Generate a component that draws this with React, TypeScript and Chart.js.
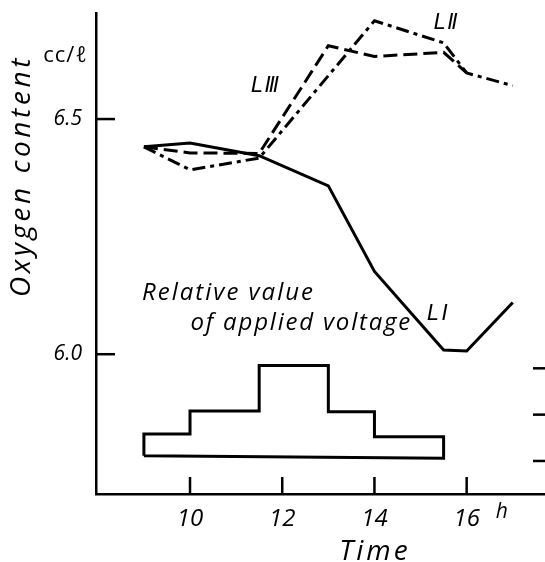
import React, { useEffect, useRef } from 'react';
import { Chart, registerables } from 'chart.js';

Chart.register(...registerables);

// ---- data ----
const times = [9, 10, 11.5, 13, 14, 15.5, 16, 17];
const lineI = [6.441, 6.449, 6.422, 6.358, 6.176, 6.009, 6.007, 6.11];
const lineII = [6.441, 6.392, 6.417, null, 6.709, 6.662, 6.598, 6.571];
const lineIII = [6.441, 6.428, 6.427, 6.656, 6.633, 6.642, 6.598, null];

const voltageTimes = [9, 10, 11.5, 13, 14, 15.5];
const voltageLevels = [0.58, 1.08, 2.06, 1.065, 0.525];
const voltageBase = [0.11, 0.06];

const oxygenTicks = [6.0, 6.5];
const timeTicks = [10, 12, 14, 16];
const voltageTicks = [0, 1, 2];

const FONT = "'Open Sans', 'DejaVu Sans', sans-serif";
const ROMAN_FONT = "'DejaVu Sans', sans-serif";

function buildOutline() {
  const pts: { x: number; y: number }[] = [{ x: voltageTimes[0], y: voltageBase[0] }];
  voltageLevels.forEach((lv, i) => {
    pts.push({ x: voltageTimes[i], y: lv });
    pts.push({ x: voltageTimes[i + 1], y: lv });
  });
  pts.push({ x: voltageTimes[voltageTimes.length - 1], y: voltageBase[1] });
  pts.push({ x: voltageTimes[0], y: voltageBase[0] });
  return pts;
}

const series = (vals: (number | null)[]) => times.map((t, i) => ({ x: t, y: vals[i] }));

const annotations = {
  id: 'annotations',
  afterDraw(chart: any) {
    const ctx: CanvasRenderingContext2D = chart.ctx;
    const area = chart.chartArea;
    const xs = chart.scales['x'];
    const ys = chart.scales['y'];
    const vs = chart.scales['y2'];
    ctx.save();
    ctx.strokeStyle = '#000';
    ctx.fillStyle = '#000';
    ctx.setLineDash([]);

    // inward tick marks
    for (const v of oxygenTicks) {
      const py = ys.getPixelForValue(v);
      ctx.fillRect(area.left, py - 1.25, 19, 2.5);
    }
    for (const v of timeTicks) {
      const px = xs.getPixelForValue(v);
      ctx.fillRect(px - 1.25, area.bottom - 17, 2.5, 17);
    }
    for (const v of voltageTicks) {
      const py = vs.getPixelForValue(v);
      ctx.fillRect(area.right - 12, py - 1.25, 12, 2.5);
    }

    const text = (
      s: string,
      px: number,
      py: number,
      font: string,
      spacing = 0,
      align: CanvasTextAlign = 'center',
      base: CanvasTextBaseline = 'middle'
    ) => {
      ctx.font = font;
      (ctx as any).letterSpacing = `${spacing}px`;
      ctx.textAlign = align;
      ctx.textBaseline = base;
      ctx.fillText(s, px, py);
      (ctx as any).letterSpacing = '0px';
    };

    text('L\u2161', xs.getPixelForValue(15.57), ys.getPixelForValue(6.703), `italic 21px ${ROMAN_FONT}`, 2);
    text('L\u2162', xs.getPixelForValue(11.65), ys.getPixelForValue(6.569), `italic 21px ${ROMAN_FONT}`, 2);
    text('L\u2160', xs.getPixelForValue(15.4), ys.getPixelForValue(6.084), `italic 21px ${ROMAN_FONT}`, 3);
    text('Relative value', xs.getPixelForValue(8.96), ys.getPixelForValue(6.116), `italic 24px ${FONT}`, 2, 'left', 'alphabetic');
    text('of applied voltage', xs.getPixelForValue(10.01), ys.getPixelForValue(6.052), `italic 24px ${FONT}`, 1.8, 'left', 'alphabetic');
    text('Time', xs.getPixelForValue(14.01), area.bottom + 58, `italic 28px ${FONT}`, 3);
    text('h', xs.getPixelForValue(16.76), area.bottom + 18, `italic 21px ${FONT}`);
    text('cc/\u2113', area.left - 30.5, ys.getPixelForValue(6.635), `22px ${FONT}`, 1);

    ctx.save();
    ctx.translate(area.left - 74, ys.getPixelForValue(6.379));
    ctx.rotate(-Math.PI / 2);
    text('Oxygen content', 0, 0, `italic 28px ${FONT}`, 3.6);
    ctx.restore();

    ctx.restore();
  },
};

export default function App() {
  const ref = useRef<HTMLCanvasElement>(null);

  useEffect(() => {
    if (!ref.current) return;
    const lineStyle = { borderColor: '#000', borderWidth: 3, pointRadius: 0, tension: 0, fill: false, spanGaps: true };
    const chart = new Chart(ref.current, {
      type: 'line',
      data: {
        datasets: [
          { label: 'LI', data: series(lineI), ...lineStyle, yAxisID: 'y' },
          { label: 'LII', data: series(lineII), ...lineStyle, borderDash: [13, 5, 4, 5], yAxisID: 'y' },
          { label: 'LIII', data: series(lineIII), ...lineStyle, borderDash: [14, 6], yAxisID: 'y' },
          { label: 'Relative value of applied voltage', data: buildOutline(), ...lineStyle, yAxisID: 'y2' },
        ],
      },
      options: {
        responsive: false,
        animation: false,
        devicePixelRatio: 1,
        layout: { padding: { top: 13, left: 0, right: 0, bottom: 0 } },
        plugins: { legend: { display: false }, tooltip: { enabled: false } },
        scales: {
          x: {
            type: 'linear',
            min: 7.961,
            max: 17.699,
            grid: { display: false, drawTicks: false },
            border: { display: true, color: '#000', width: 2.5 },
            afterBuildTicks: (s: any) => {
              s.ticks = timeTicks.map((v) => ({ value: v }));
            },
            afterFit: (s: any) => {
              s.height = 68;
              s.paddingLeft = 0;
              s.paddingRight = 0;
            },
            ticks: {
              color: '#000',
              padding: 11,
              maxRotation: 0,
              font: { family: FONT, size: 24, style: 'italic' },
              callback: (v: any) => String(v),
            },
          },
          y: {
            type: 'linear',
            min: 5.7028,
            max: 6.7255,
            grid: { display: false, drawTicks: false },
            border: { display: true, color: '#000', width: 2.5 },
            afterBuildTicks: (s: any) => {
              s.ticks = oxygenTicks.map((v) => ({ value: v }));
            },
            afterFit: (s: any) => {
              s.width = 96;
              s.paddingTop = 0;
              s.paddingBottom = 0;
            },
            ticks: {
              color: '#000',
              padding: 14,
              font: { family: FONT, size: 21, style: 'italic' },
              callback: (v: any) => Number(v).toFixed(1),
            },
          },
          y2: {
            type: 'linear',
            display: false,
            position: 'right',
            min: -0.713,
            max: 9.67,
          },
        },
      },
      plugins: [annotations],
    });
    return () => chart.destroy();
  }, []);

  return (
    <div style={{ position: 'absolute', left: 0, top: 0, width: 545, height: 562, background: '#fff' }}>
      <canvas ref={ref} width={545} height={562} />
    </div>
  );
}
